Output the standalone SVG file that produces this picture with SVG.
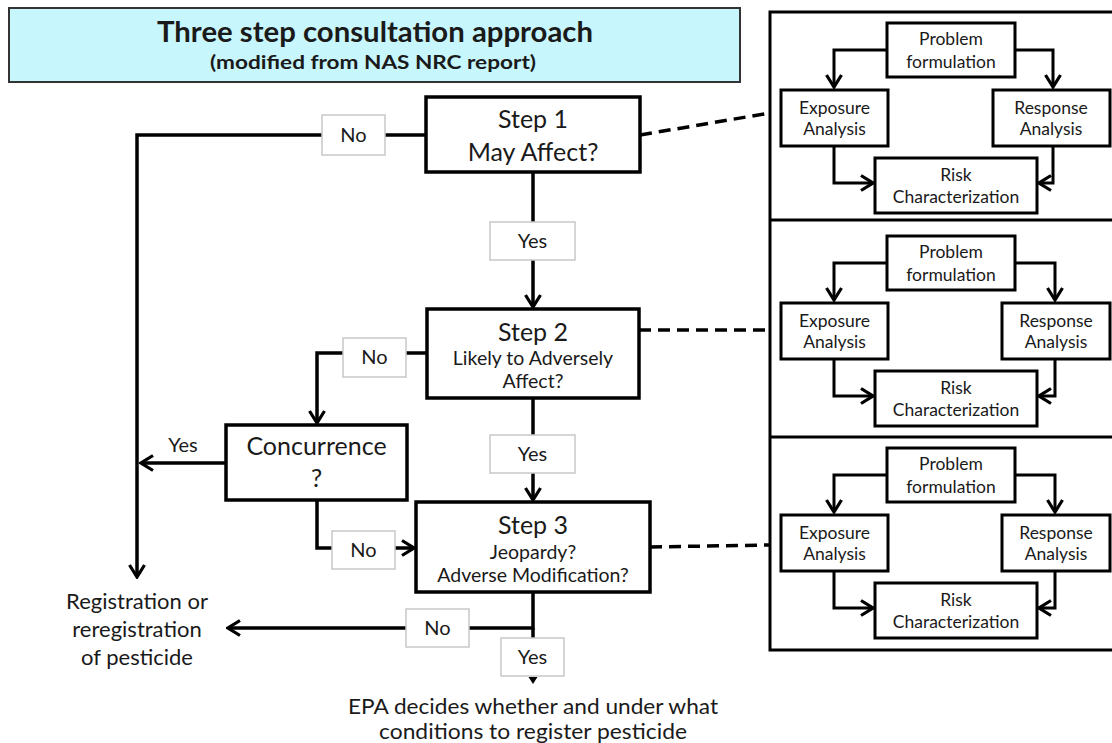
<svg xmlns="http://www.w3.org/2000/svg" width="1112" height="743" viewBox="0 0 1112 743">
<defs>
<style>
text{font-family:Lato,"Open Sans","Liberation Sans",sans-serif;fill:#1a1a1a;text-anchor:middle}
.box{fill:#fff;stroke:#000;stroke-width:3.5}
.pbox{fill:#fff;stroke:#000;stroke-width:3}
.lbl{fill:#fff;stroke:#c8c8c8;stroke-width:1.5}
.ln{fill:none;stroke:#000;stroke-width:3.5}
.pln{fill:none;stroke:#000;stroke-width:3}
.dash{fill:none;stroke:#000;stroke-width:3.5;stroke-dasharray:12,7}
.big{font-size:25px}
.mid{font-size:19.5px}
.lt{font-size:20px}
.ft{font-size:22px}
.et{font-size:20.5px}
.pt{font-size:17.5px}
</style>
<marker id="arr" viewBox="0 0 16 18" refX="14" refY="9" markerWidth="16" markerHeight="18" markerUnits="userSpaceOnUse" orient="auto">
<path d="M2,1.5 L14,9 L2,16.5" fill="none" stroke="#000" stroke-width="3.2"/>
</marker>
</defs>
<rect width="1112" height="743" fill="#fff"/>

<g id="title">
<rect x="9" y="8" width="731" height="74" fill="#c8f6fd" stroke="#333" stroke-width="2"/>
<text x="375" y="42" style="font-size:28px;font-weight:bold" textLength="436" lengthAdjust="spacingAndGlyphs">Three step consultation approach</text>
<text x="373" y="69" style="font-size:19px;font-weight:bold" textLength="326" lengthAdjust="spacingAndGlyphs">(modified from NAS NRC report)</text>
</g>

<g id="connectors">
<path class="ln" d="M426,135 H137 V577" marker-end="url(#arr)"/>
<path class="ln" d="M533,172 V307" marker-end="url(#arr)"/>
<path class="ln" d="M427,353 H317 V423" marker-end="url(#arr)"/>
<path class="ln" d="M533,398 V500" marker-end="url(#arr)"/>
<path class="ln" d="M226,463 H141" marker-end="url(#arr)"/>
<path class="ln" d="M317,500 V548 H414" marker-end="url(#arr)"/>
<path class="ln" d="M533,592 V628 H228" marker-end="url(#arr)"/>
<path class="ln" d="M533,628 V676" stroke-width="3"/>
<path d="M528.5,677 L537.5,677 L533,684 Z" fill="#000"/>
<path class="dash" d="M640,135 L770,113"/>
<path class="dash" d="M639,330 L770,330"/>
<path class="dash" d="M650,547 L770,545"/>
</g>

<g id="label-no-1"><rect class="lbl" x="322" y="115" width="63" height="40"/><text class="lt" x="353.5" y="142">No</text></g>
<g id="label-yes-1"><rect class="lbl" x="490" y="222" width="85" height="38"/><text class="lt" x="532.5" y="248">Yes</text></g>
<g id="label-no-2"><rect class="lbl" x="343" y="338" width="63" height="39"/><text class="lt" x="374.5" y="364">No</text></g>
<g id="label-yes-2"><rect class="lbl" x="490" y="435" width="85" height="38"/><text class="lt" x="532.5" y="461">Yes</text></g>
<g id="label-no-3"><rect class="lbl" x="332" y="531" width="63" height="38"/><text class="lt" x="363.5" y="557">No</text></g>
<g id="label-yes-conc"><text class="lt" x="183" y="452">Yes</text></g>
<g id="label-no-4"><rect class="lbl" x="406" y="609" width="63" height="38"/><text class="lt" x="437.5" y="635">No</text></g>
<g id="label-yes-4"><rect class="lbl" x="501" y="638" width="63" height="38"/><text class="lt" x="532.5" y="664">Yes</text></g>

<g id="step1">
<rect class="box" x="426" y="97" width="214" height="75"/>
<text class="big" x="533" y="128">Step 1</text>
<text class="big" x="533" y="161">May Affect?</text>
</g>
<g id="step2">
<rect class="box" x="427" y="309" width="212" height="89"/>
<text class="big" x="533" y="341">Step 2</text>
<text class="mid" x="533" y="365">Likely to Adversely</text>
<text class="mid" x="533" y="388">Affect?</text>
</g>
<g id="step3">
<rect class="box" x="416" y="502" width="234" height="90"/>
<text class="big" x="533" y="534">Step 3</text>
<text class="mid" x="533" y="559">Jeopardy?</text>
<text class="mid" x="533" y="582">Adverse Modification?</text>
</g>
<g id="concurrence">
<rect class="box" x="226" y="425" width="181" height="75"/>
<text class="big" x="316.5" y="455">Concurrence</text>
<text class="big" x="316.5" y="487">?</text>
</g>
<g id="registration">
<text class="ft" x="137" y="609">Registration or</text>
<text class="ft" x="137" y="637">reregistration</text>
<text class="ft" x="137" y="665">of pesticide</text>
</g>
<g id="epa">
<text class="et" x="533" y="714" textLength="370" lengthAdjust="spacingAndGlyphs">EPA decides whether and under what</text>
<text class="et" x="533" y="739" textLength="308" lengthAdjust="spacingAndGlyphs">conditions to register pesticide</text>
</g>

<g id="panel-frame">
<path class="pln" d="M1114,12 H770 V650 H1114"/>
<path class="pln" d="M770,220 H1114 M770,437 H1114"/>
</g>

<g id="panel1">
<path class="pln" d="M887,50 H834 V87" marker-end="url(#arr)"/>
<path class="pln" d="M1015,50 H1053 V87" marker-end="url(#arr)"/>
<path class="pln" d="M834,146 V183 H873" marker-end="url(#arr)"/>
<path class="pln" d="M1053,146 V183 H1039" marker-end="url(#arr)"/>
<g id="p1-problem"><rect class="pbox" x="887" y="23" width="128" height="54"/><text class="pt" x="951" y="45">Problem</text><text class="pt" x="951" y="68">formulation</text></g>
<g id="p1-exposure"><rect class="pbox" x="781" y="90" width="107" height="56"/><text class="pt" x="834.5" y="114">Exposure</text><text class="pt" x="834.5" y="135">Analysis</text></g>
<g id="p1-response"><rect class="pbox" x="993" y="90" width="117" height="56"/><text class="pt" x="1051" y="114">Response</text><text class="pt" x="1051" y="135">Analysis</text></g>
<g id="p1-risk"><rect class="pbox" x="875" y="158" width="162" height="55"/><text class="pt" x="956" y="181">Risk</text><text class="pt" x="956" y="203">Characterization</text></g>
</g>

<g id="panel2" transform="translate(0,213)">
<path class="pln" d="M887,50 H834 V87" marker-end="url(#arr)"/>
<path class="pln" d="M1015,50 H1055 V87" marker-end="url(#arr)"/>
<path class="pln" d="M834,146 V183 H873" marker-end="url(#arr)"/>
<path class="pln" d="M1055,146 V183 H1039" marker-end="url(#arr)"/>
<g id="p2-problem"><rect class="pbox" x="887" y="23" width="128" height="54"/><text class="pt" x="951" y="45">Problem</text><text class="pt" x="951" y="68">formulation</text></g>
<g id="p2-exposure"><rect class="pbox" x="781" y="90" width="107" height="56"/><text class="pt" x="834.5" y="114">Exposure</text><text class="pt" x="834.5" y="135">Analysis</text></g>
<g id="p2-response"><rect class="pbox" x="1002" y="90" width="108" height="56"/><text class="pt" x="1056" y="114">Response</text><text class="pt" x="1056" y="135">Analysis</text></g>
<g id="p2-risk"><rect class="pbox" x="875" y="158" width="162" height="55"/><text class="pt" x="956" y="181">Risk</text><text class="pt" x="956" y="203">Characterization</text></g>
</g>

<g id="panel3" transform="translate(0,425)">
<path class="pln" d="M887,50 H834 V87" marker-end="url(#arr)"/>
<path class="pln" d="M1015,50 H1055 V87" marker-end="url(#arr)"/>
<path class="pln" d="M834,146 V183 H873" marker-end="url(#arr)"/>
<path class="pln" d="M1055,146 V183 H1039" marker-end="url(#arr)"/>
<g id="p3-problem"><rect class="pbox" x="887" y="23" width="128" height="54"/><text class="pt" x="951" y="45">Problem</text><text class="pt" x="951" y="68">formulation</text></g>
<g id="p3-exposure"><rect class="pbox" x="781" y="90" width="107" height="56"/><text class="pt" x="834.5" y="114">Exposure</text><text class="pt" x="834.5" y="135">Analysis</text></g>
<g id="p3-response"><rect class="pbox" x="1002" y="90" width="108" height="56"/><text class="pt" x="1056" y="114">Response</text><text class="pt" x="1056" y="135">Analysis</text></g>
<g id="p3-risk"><rect class="pbox" x="875" y="158" width="162" height="55"/><text class="pt" x="956" y="181">Risk</text><text class="pt" x="956" y="203">Characterization</text></g>
</g>
</svg>
